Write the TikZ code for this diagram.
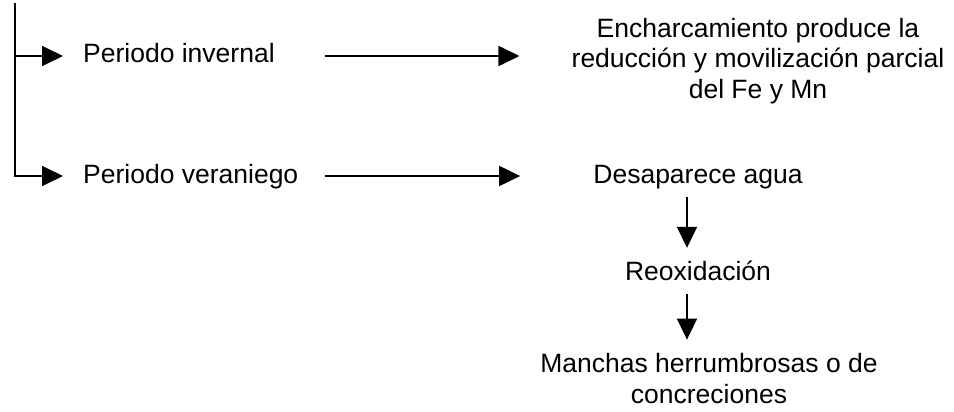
\documentclass[tikz,border=0pt]{standalone}
\usepackage{fontspec}
\setmainfont{Liberation Sans}
\usetikzlibrary{calc,arrows.meta,positioning}

\begin{document}
\begin{tikzpicture}[x=1pt, y=-1pt, >={Triangle[length=21pt,width=20pt]}]
		\tikzset{
			txt/.style={inner sep=0pt, font=\fontsize{26.5}{31}\selectfont, text height=19pt, text depth=5pt},
			txtm/.style={inner sep=0pt, font=\fontsize{26.5}{31}\selectfont, align=center},
			arr/.style={->, line width=1.7pt}
		}
		\useasboundingbox (0,0) rectangle (954,412);

		% Left labels
		\node[txt, anchor=base west] (inv) at (83,63) {Periodo invernal};
		\node[txt, anchor=base west] (ver) at (83,183) {Periodo veraniego};

		% Right column
		\node[txtm, anchor=base] (ench) at (758,99) {Encharcamiento produce la\\reducción y movilización parcial\\del Fe y Mn};
		\node[txt, anchor=base] (desap) at (698,183) {Desaparece agua};
		\node[txt, anchor=base] (reox) at (698,280) {Reoxidación};
		\node[txtm, anchor=base] (manch) at (709,403) {Manchas herrumbrosas o de\\concreciones};

		% Bracket
		\coordinate (top) at (15,3);
		\draw[arr] (top) |- ([xshift=-20pt]ver.west);
		\draw[arr] (top |- inv.west) -- ([xshift=-20pt]inv.west);

		% Horizontal arrows
		\draw[arr] ([xshift=50pt]inv.east) -- ([xshift=-52pt]ench.west |- inv.east);
		\draw[arr] ([xshift=27pt]ver.east) -- ([xshift=-73pt]desap.west |- ver.east);

		% Sequence
		\draw[arr, shorten <=9pt, shorten >=13pt] ([xshift=-11pt]desap.south) -- ([xshift=-11pt]reox.north);
		\draw[arr, shorten <=9pt, shorten >=13pt] ([xshift=-11pt]reox.south) -- ([xshift=-22pt]manch.north);
	\end{tikzpicture}
\end{document}
